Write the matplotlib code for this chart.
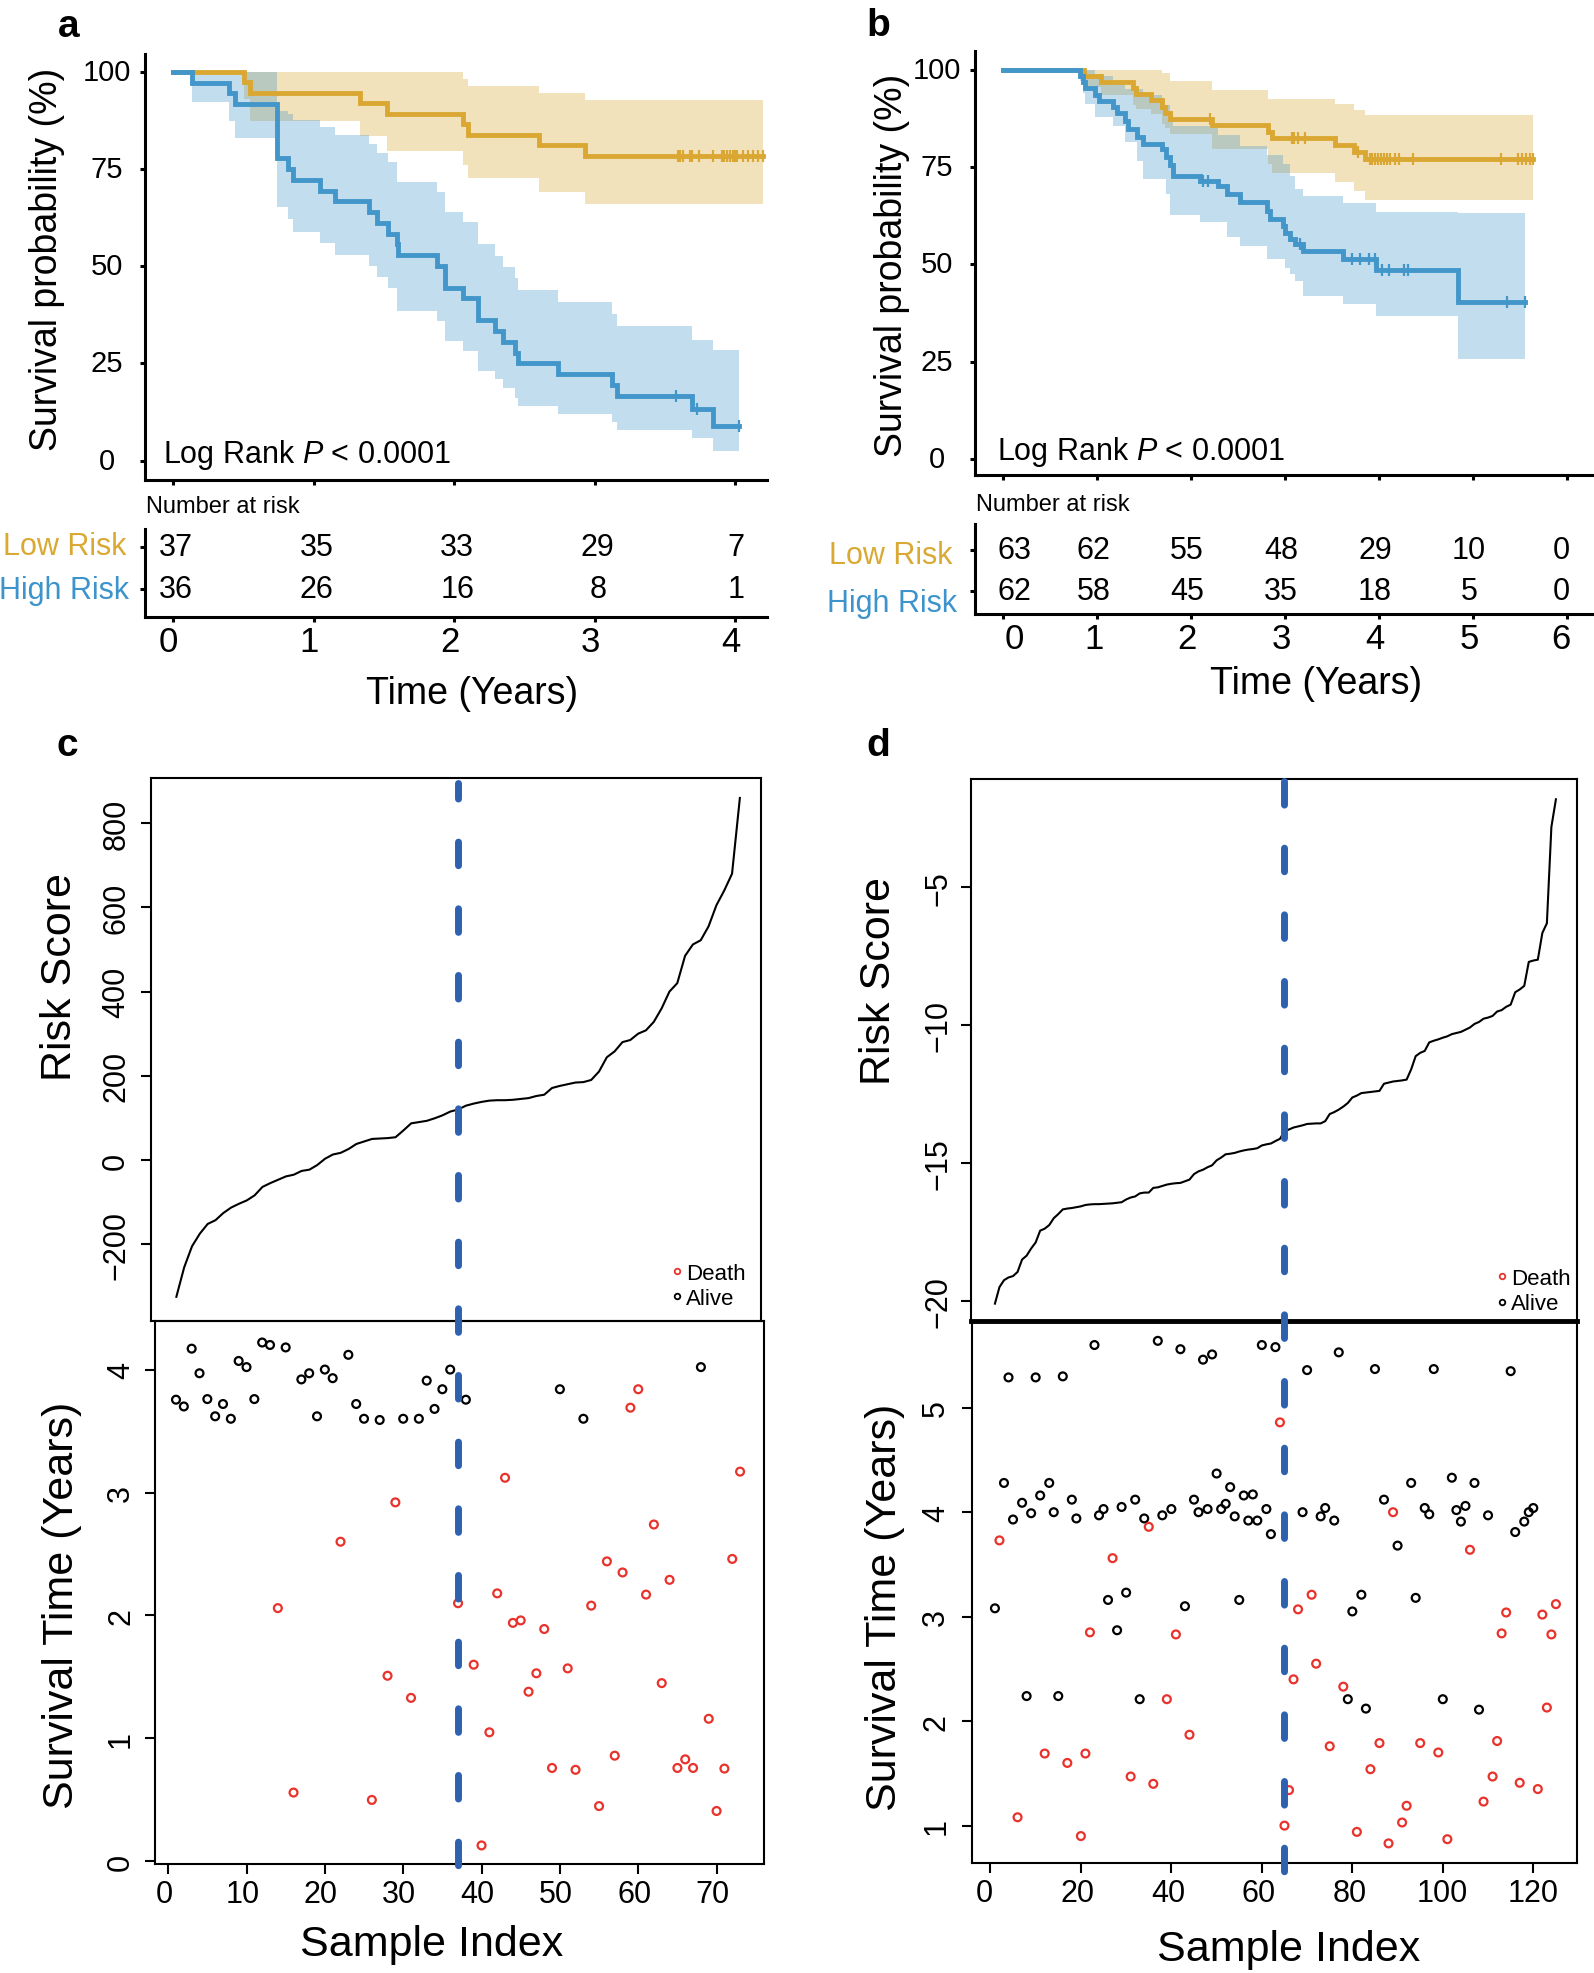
import numpy as np
import matplotlib
matplotlib.use("Agg")
import matplotlib.pyplot as plt
from matplotlib.lines import Line2D
from matplotlib.transforms import blended_transform_factory, ScaledTranslation

plt.rcParams['font.family'] = ['Liberation Sans', 'DejaVu Sans']
plt.rcParams['mathtext.fontset'] = 'custom'
plt.rcParams['mathtext.rm'] = 'Liberation Sans'
plt.rcParams['mathtext.it'] = 'Liberation Sans:italic'
plt.rcParams['lines.scale_dashes'] = False

# ======================= DATA =======================
# ---- panel a : Kaplan-Meier (training set) ----
a_low_t = [0, 0.505, 0.546, 1.33, 1.52, 2.065, 2.10, 2.60, 2.93]
a_low_s = [100, 97.3, 94.6, 91.9, 89.2, 86.5, 83.8, 81.1, 78.4]
a_low_hi = [100, 100, 100, 100, 100, 98.1, 96.2, 94.5, 92.6]
a_low_lo = [100, 93.0, 87.4, 83.4, 79.7, 76.0, 72.6, 69.2, 66.1]
a_low_end = 4.20
a_low_cens = [3.594, 3.61, 3.63, 3.678, 3.69, 3.744, 3.843, 3.903, 3.92, 3.943,
              3.96, 3.981, 4.00, 4.014, 4.057, 4.093, 4.128, 4.164, 4.199]

a_high_t = [0, 0.13, 0.40, 0.44, 0.735, 0.82, 0.855, 1.045, 1.15, 1.39, 1.45, 1.53, 1.59,
            1.60, 1.875, 1.935, 2.065, 2.17, 2.29, 2.35, 2.43, 2.456, 2.74, 3.12, 3.16, 3.69, 3.84]
a_high_s = [100, 97.2, 94.4, 91.7, 77.8, 75.0, 72.2, 69.4, 66.7, 63.9, 61.1, 58.3, 55.6,
            52.8, 50.0, 44.4, 41.7, 36.1, 33.3, 30.6, 27.8, 25.0, 22.2, 19.4, 16.7, 13.3, 8.9]
a_high_hi = [100, 100, 100, 100, 90.0, 89.0, 87.5, 85.9, 83.7, 81.4, 79.0, 76.7, 71.6,
             71.6, 69.0, 63.9, 61.3, 55.7, 52.7, 49.7, 47.0, 44.0, 40.7, 37.7, 34.5, 31.1, 28.5]
a_high_lo = [100, 92.1, 87.2, 82.9, 65.1, 62.1, 58.9, 55.9, 52.9, 50.0, 47.1, 44.3, 38.6,
             38.6, 36.0, 30.8, 28.3, 23.1, 21.0, 18.6, 16.0, 14.1, 12.0, 10.0, 8.0, 5.8, 2.6]
a_high_end = 4.03
a_high_cens = [3.58, 3.73, 4.03]

a_years = [0, 1, 2, 3, 4]
a_risk_low = [37, 35, 33, 29, 7]
a_risk_high = [36, 26, 16, 8, 1]

# ---- panel b : Kaplan-Meier (validation set) ----
b_low_t = [0, 0.86, 1.05, 1.39, 1.42, 1.58, 1.69, 1.72, 1.78, 2.22, 2.82, 2.86, 3.53, 3.73, 3.85]
b_low_s = [100, 98.4, 96.8, 95.2, 93.7, 92.1, 90.5, 88.9, 87.3, 85.7, 84.1, 82.5, 80.7, 78.8, 77.1]
b_low_hi = [100, 100, 100, 100, 100, 100, 99.1, 99.1, 97.0, 94.9, 92.5, 92.5, 91.2, 89.7, 88.4]
b_low_lo = [100, 95.5, 93.5, 91.0, 90.0, 88.6, 86.0, 85.0, 83.5, 79.6, 75.8, 73.5, 71.2, 68.9, 66.6]
b_low_end = 5.64
b_low_cens = [2.20, 3.07, 3.10, 3.14, 3.21, 3.78, 3.90, 3.93, 3.96, 3.99, 4.02, 4.05,
              4.08, 4.12, 4.17, 4.21, 4.36, 5.30, 5.48, 5.52, 5.56, 5.60, 5.64]

b_high_t = [0, 0.822, 0.85, 0.875, 0.98, 1.02, 1.176, 1.21, 1.30, 1.335, 1.424, 1.49, 1.69,
            1.74, 1.78, 1.813, 2.10, 2.29, 2.38, 2.52, 2.81, 2.84, 2.98, 3.00, 3.05, 3.11,
            3.19, 3.62, 3.97, 4.84]
b_high_s = [100, 98.4, 96.8, 95.2, 93.5, 92.0, 90.4, 89.0, 86.9, 84.8, 82.6, 80.9, 79.6,
            77.5, 75.4, 72.8, 71.5, 70.2, 68.1, 65.9, 63.8, 61.6, 59.9, 58.0, 56.5, 55.2,
            53.3, 51.4, 48.6, 40.2]
b_high_hi = [100, 100, 100, 100, 98.5, 98.5, 97.0, 97.0, 95.0, 95.0, 95.0, 93.4, 91.0,
             91.0, 89.0, 85.6, 85.6, 83.2, 83.2, 80.5, 78.0, 78.0, 75.8, 75.8, 72.8, 69.4,
             67.6, 65.8, 63.5, 63.2]
b_high_lo = [100, 97.0, 94.0, 91.3, 87.8, 87.8, 85.6, 85.6, 81.3, 81.3, 76.6, 71.9, 71.9,
             68.0, 62.8, 62.8, 60.8, 60.8, 56.9, 54.8, 51.4, 51.4, 51.4, 49.0, 47.5, 45.8,
             41.8, 39.8, 36.8, 25.7]
b_high_end = 5.55
b_high_cens = [2.13, 2.18, 3.16, 3.71, 3.80, 3.89, 3.96, 4.03, 4.11, 4.27, 4.31, 5.36, 5.55]

b_years = [0, 1, 2, 3, 4, 5, 6]
b_risk_low = [63, 62, 55, 48, 29, 10, 0]
b_risk_high = [62, 58, 45, 35, 18, 5, 0]

# ---- panel c : risk score / survival (n = 73) ----
c_score = [-325, -255, -205, -175, -152, -143, -126, -113, -104, -96,
           -84, -64, -55, -47, -39, -35, -26, -23, -12, 3,
           13, 17, 26, 38, 44, 50, 51, 52, 54, 70,
           87, 90, 93, 99, 106, 115, 120, 129, 134, 138,
           141, 142, 142, 143, 145, 147, 152, 155, 171, 176,
           180, 184, 185, 190, 210, 244, 258, 280, 285, 300,
           308, 328, 360, 400, 420, 485, 512, 522, 555, 605,
           640, 680, 860]
c_time = [3.755, 3.70, 4.17, 3.97, 3.76, 3.62, 3.72, 3.60, 4.07, 4.02,
          3.76, 4.22, 4.20, 2.06, 4.18, 0.56, 3.92, 3.97, 3.62, 4.00,
          3.93, 2.60, 4.12, 3.72, 3.60, 0.50, 3.59, 1.51, 2.92, 3.60,
          1.33, 3.60, 3.91, 3.68, 3.84, 4.00, 2.10, 3.755, 1.60, 0.13,
          1.05, 2.18, 3.12, 1.94, 1.96, 1.38, 1.53, 1.89, 0.76, 3.84,
          1.57, 0.745, 3.60, 2.08, 0.45, 2.44, 0.86, 2.35, 3.69, 3.84,
          2.17, 2.74, 1.45, 2.29, 0.76, 0.83, 0.76, 4.02, 1.16, 0.41,
          0.755, 2.46, 3.17]
c_status = [0, 0, 0, 0, 0, 0, 0, 0, 0, 0,
            0, 0, 0, 1, 0, 1, 0, 0, 0, 0,
            0, 1, 0, 0, 0, 1, 0, 1, 1, 0,
            1, 0, 0, 0, 0, 0, 1, 0, 1, 1,
            1, 1, 1, 1, 1, 1, 1, 1, 1, 0,
            1, 1, 0, 1, 1, 1, 1, 1, 1, 1,
            1, 1, 1, 1, 1, 1, 1, 0, 1, 1,
            1, 1, 1]
c_cut = 37

# ---- panel d : risk score / survival (n = 125) ----
d_score = [-20.1, -19.5, -19.25, -19.15, -19.1, -18.95, -18.5, -18.36, -18.1, -17.88,
           -17.45, -17.38, -17.25, -17.0, -16.85, -16.68, -16.65, -16.63, -16.60, -16.57,
           -16.52, -16.50, -16.49, -16.49, -16.48, -16.47, -16.46, -16.44, -16.42, -16.32,
           -16.25, -16.21, -16.1, -16.07, -16.07, -15.9, -15.88, -15.83, -15.78, -15.75,
           -15.73, -15.72, -15.66, -15.6, -15.4, -15.3, -15.24, -15.15, -15.08, -14.9,
           -14.8, -14.68, -14.66, -14.63, -14.58, -14.54, -14.51, -14.49, -14.46, -14.36,
           -14.32, -14.29, -14.2, -14.12, -13.85, -13.78, -13.71, -13.67, -13.63, -13.58,
           -13.57, -13.56, -13.56, -13.48, -13.22, -13.15, -13.06, -12.95, -12.82, -12.62,
           -12.55, -12.46, -12.44, -12.42, -12.40, -12.38, -12.12, -12.08, -12.04, -12.02,
           -12.0, -11.97, -11.6, -11.12, -11.0, -10.93, -10.62, -10.56, -10.51, -10.45,
           -10.40, -10.32, -10.28, -10.24, -10.16, -10.08, -9.95, -9.88, -9.76, -9.72,
           -9.66, -9.5, -9.45, -9.33, -9.25, -8.8, -8.7, -8.57, -7.7, -7.65,
           -7.62, -6.65, -6.3, -2.8, -1.8]
d_time = [3.08, 3.73, 4.28, 5.29, 3.93, 1.08, 4.09, 2.24, 3.99, 5.29,
          4.16, 1.69, 4.28, 4.00, 2.24, 5.30, 1.60, 4.12, 3.94, 0.90,
          1.69, 2.85, 5.60, 3.97, 4.03, 3.16, 3.56, 2.87, 4.05, 3.23,
          1.47, 4.12, 2.21, 3.94, 3.86, 1.40, 5.64, 3.97, 2.21, 4.03,
          2.83, 5.56, 3.10, 1.87, 4.12, 4.00, 5.46, 4.03, 5.51, 4.37,
          4.03, 4.08, 4.24, 3.96, 3.16, 4.16, 3.92, 4.17, 3.92, 5.60,
          4.03, 3.79, 5.58, 4.86, 1.00, 1.34, 2.40, 3.07, 4.00, 5.36,
          3.21, 2.55, 3.96, 4.04, 1.76, 3.92, 5.53, 2.33, 2.21, 3.05,
          0.94, 3.21, 2.12, 1.54, 5.37, 1.79, 4.12, 0.83, 4.00, 3.68,
          1.03, 1.19, 4.28, 3.18, 1.79, 4.04, 3.98, 5.37, 1.70, 2.21,
          0.87, 4.33, 4.02, 3.91, 4.06, 3.64, 4.28, 2.11, 1.23, 3.97,
          1.47, 1.81, 2.84, 3.04, 5.35, 3.81, 1.41, 3.91, 4.00, 4.04,
          1.35, 3.02, 2.13, 2.83, 3.12]
d_status = [0, 1, 0, 0, 0, 1, 0, 0, 0, 0,
            0, 1, 0, 0, 0, 0, 1, 0, 0, 1,
            1, 1, 0, 0, 0, 0, 1, 0, 0, 0,
            1, 0, 0, 0, 1, 1, 0, 0, 1, 0,
            1, 0, 0, 1, 0, 0, 0, 0, 0, 0,
            0, 0, 0, 0, 0, 0, 0, 0, 0, 0,
            0, 0, 0, 1, 1, 1, 1, 1, 0, 0,
            1, 1, 0, 0, 1, 0, 0, 1, 0, 0,
            1, 0, 0, 1, 0, 1, 0, 1, 1, 0,
            1, 1, 0, 0, 1, 0, 0, 0, 1, 0,
            1, 0, 0, 0, 0, 1, 0, 0, 1, 0,
            1, 1, 1, 1, 0, 0, 1, 0, 0, 0,
            1, 1, 1, 1, 1]
d_cut = 65

# ======================= STYLE =======================
GOLD = '#DAA832'
BLUE = '#4296CA'
LOWTXT = '#D9A933'
HIGHTXT = '#3D93CB'
RED = '#E8322B'
DASH = '#2F62AE'

W, H = 1594, 1974
DPI = 100
fig = plt.figure(figsize=(W / DPI, H / DPI), dpi=DPI)


def rect(l, t, r, b):
    return [l / W, 1 - b / H, (r - l) / W, (b - t) / H]


def ftext(x, y, s, **kw):
    return fig.text(x / W, 1 - y / H, s, **kw)


def px_shift(dx):
    return ScaledTranslation(dx / DPI, 0, fig.dpi_scale_trans)


def shift_xlabels(ax, offsets):
    for tk, dx in zip(ax.xaxis.get_major_ticks(), offsets):
        tk.label1.set_transform(tk.label1.get_transform() + px_shift(dx))


def band(ax, t, lo, hi, end, color, alpha):
    te = np.r_[t, end]
    lo_e = np.r_[lo, lo[-1]]
    hi_e = np.r_[hi, hi[-1]]
    ax.fill_between(te, lo_e, hi_e, step='post', color=color, alpha=alpha, lw=0)


def curve(ax, t, s, end, cens, color):
    te = np.r_[t, end]
    se = np.r_[s, s[-1]]
    ax.step(te, se, where='post', color=color, lw=3.5, solid_joinstyle='miter')
    cs = np.asarray(s)[np.searchsorted(t, cens, side='right') - 1]
    ax.plot(cens, cs, ls='none', marker='|', ms=8, mew=1.6, color=color)


def km_axes(l, t, r, b, xlim, ylim, xticks):
    ax = fig.add_axes(rect(l, t, r, b))
    ax.set_xlim(xlim)
    ax.set_ylim(ylim)
    for sp in ['top', 'right']:
        ax.spines[sp].set_visible(False)
    for sp in ['left', 'bottom']:
        ax.spines[sp].set_linewidth(2.2)
    ax.set_xticks(xticks)
    ax.set_xticklabels([])
    ax.set_yticks([0, 25, 50, 75, 100])
    ax.tick_params(axis='both', direction='out', length=3.5, width=2.2, labelsize=21)
    ax.tick_params(axis='y', pad=23.8)
    for lbl in ax.get_yticklabels():
        lbl.set_ha('center')
        lbl.set_va('center')
    return ax


def table_axes(l, t, r, b, xlim, ylim, xticks, offsets):
    ax = fig.add_axes(rect(l, t, r, b))
    ax.set_xlim(xlim)
    ax.set_ylim(ylim)
    for sp in ['top', 'right']:
        ax.spines[sp].set_visible(False)
    for sp in ['left', 'bottom']:
        ax.spines[sp].set_linewidth(2.2)
    ax.set_yticks([0, 1])
    ax.set_yticklabels([])
    ax.set_xticks(xticks)
    ax.set_xticklabels([str(v) for v in xticks])
    ax.tick_params(axis='both', direction='out', length=3.5, width=2.2)
    ax.tick_params(axis='x', labelsize=25, pad=2.5)
    shift_xlabels(ax, offsets)
    ax.patch.set_alpha(0)
    return ax


# ======================= PANEL a =======================
ax_a = km_axes(145, 55, 767, 481, (-0.201, 4.226), (-4.96, 104.55), a_years)
band(ax_a, a_low_t, a_low_lo, a_low_hi, a_low_end, GOLD, 0.33)
band(ax_a, a_high_t, a_high_lo, a_high_hi, a_high_end, BLUE, 0.32)
curve(ax_a, a_low_t, a_low_s, a_low_end, a_low_cens, GOLD)
curve(ax_a, a_high_t, a_high_s, a_high_end, a_high_cens, BLUE)
ftext(162.7, 463, r'Log Rank $\it{P}$ < 0.0001', fontsize=22, ha='left', va='baseline')
ftext(47.5, 259, 'Survival probability (%)', fontsize=27, rotation=90, ha='center', va='center')

tab_a = table_axes(145, 530, 767, 617.5, (-0.201, 4.226), (-0.655, 1.429), a_years,
                   [-4.5, -4.5, -4.5, -4.5, -4.5])
a_num_dx = [3, 3, 3, 3, 1]
for yr, nl, nh, dx in zip(a_years, a_risk_low, a_risk_high, a_num_dx):
    tr = tab_a.transData + px_shift(dx)
    tab_a.text(yr, 1, str(nl), ha='center', va='center', fontsize=22, transform=tr)
    tab_a.text(yr, 0, str(nh), ha='center', va='center', fontsize=22, transform=tr)
ftext(146, 507, 'Number at risk', fontsize=17, ha='left', va='center')
ftext(126, 547, 'Low Risk', fontsize=22, color=LOWTXT, ha='right', va='center')
ftext(129, 591, 'High Risk', fontsize=22, color=HIGHTXT, ha='right', va='center')
ftext(472.5, 693.5, 'Time (Years)', fontsize=27, ha='center', va='center')
ftext(69, 27, 'a', fontsize=28, fontweight='bold', ha='center', va='center')

# ======================= PANEL b =======================
ax_b = km_axes(975, 51.6, 1594, 476, (-0.294, 6.284), (-4.11, 104.9), b_years)
band(ax_b, b_low_t, b_low_lo, b_low_hi, b_low_end, GOLD, 0.33)
band(ax_b, b_high_t, b_high_lo, b_high_hi, b_high_end, BLUE, 0.32)
curve(ax_b, b_low_t, b_low_s, b_low_end, b_low_cens, GOLD)
curve(ax_b, b_high_t, b_high_s, b_high_end, b_high_cens, BLUE)
ftext(996.7, 460, r'Log Rank $\it{P}$ < 0.0001', fontsize=22, ha='left', va='baseline')
ftext(892, 265, 'Survival probability (%)', fontsize=27, rotation=90, ha='center', va='center')

b_col_dx = [12, -3, -4, -4, -4, -4, -6]
tab_b = table_axes(975, 525, 1594, 615, (-0.294, 6.284), (-0.557, 1.622), b_years, b_col_dx)
for yr, nl, nh, dx in zip(b_years, b_risk_low, b_risk_high, b_col_dx):
    tr = tab_b.transData + px_shift(dx)
    tab_b.text(yr, 1, str(nl), ha='center', va='center', fontsize=22, transform=tr)
    tab_b.text(yr, 0, str(nh), ha='center', va='center', fontsize=22, transform=tr)
ftext(975.7, 505.5, 'Number at risk', fontsize=17, ha='left', va='center')
ftext(952, 556, 'Low Risk', fontsize=22, color=LOWTXT, ha='right', va='center')
ftext(957, 604, 'High Risk', fontsize=22, color=HIGHTXT, ha='right', va='center')
ftext(1316, 684, 'Time (Years)', fontsize=27, ha='center', va='center')
ftext(878, 26, 'b', fontsize=28, fontweight='bold', ha='center', va='center')


# ======================= PANELS c / d =======================
def box_axes(l, t, r, b, xlim, ylim, yticks, ypad, xticks=None, xoffsets=None,
             top_lw=1.5, bot_lw=1.5):
    ax = fig.add_axes(rect(l, t, r, b))
    ax.set_xlim(xlim)
    ax.set_ylim(ylim)
    for sp in ax.spines.values():
        sp.set_linewidth(1.5)
    ax.spines['top'].set_linewidth(top_lw)
    ax.spines['bottom'].set_linewidth(bot_lw)
    ax.set_yticks(yticks)
    ax.tick_params(axis='y', direction='out', length=7.5, width=1.5, labelsize=22,
                   pad=ypad, labelrotation=90)
    for lbl in ax.get_yticklabels():
        lbl.set_va('center')
    if xticks is None:
        ax.set_xticks([])
    else:
        ax.set_xticks(xticks)
        ax.tick_params(axis='x', direction='out', length=7.5, width=1.5, labelsize=22, pad=3.5)
        shift_xlabels(ax, xoffsets)
    ax.patch.set_alpha(0)
    return ax


def legend(ax, bx, by):
    handles = [Line2D([], [], ls='none', marker='o', ms=4, mfc='none', mec=RED, mew=1.3, label='Death'),
               Line2D([], [], ls='none', marker='o', ms=4, mfc='none', mec='black', mew=1.3, label='Alive')]
    ax.legend(handles=handles, loc='lower right', bbox_to_anchor=(bx, by), frameon=False,
              fontsize=16, handlelength=0.5, handletextpad=0.15, labelspacing=0.2,
              borderpad=0, borderaxespad=0)


# ---- c ----
c_idx = np.arange(1, len(c_score) + 1)
ax_ct = box_axes(151, 779, 761, 1322, (-2.24, 75.7), (-382.5, 907.4),
                 [-200, 0, 200, 400, 600, 800], 6.8)
ax_ct.plot(c_idx, c_score, color='black', lw=1.5)
legend(ax_ct, 0.975, 0.022)

ax_cb = box_axes(155, 1322, 763.5, 1865, (-1.68, 75.99), (-0.021, 4.395),
                 [0, 1, 2, 3, 4], 6.1, xticks=[0, 10, 20, 30, 40, 50, 60, 70],
                 xoffsets=[-4] * 8)
c_cols = [RED if s == 1 else 'black' for s in c_status]
ax_cb.scatter(c_idx, c_time, s=32, facecolors='none', edgecolors=c_cols, linewidths=1.6, zorder=3)
tr_c = blended_transform_factory(ax_cb.transData, fig.transFigure)
ax_cb.plot([c_cut, c_cut], [1 - 784 / H, 1 - 1870 / H], transform=tr_c, clip_on=False,
           color=DASH, lw=5, linestyle=(5.8, (17, 31)), dash_capstyle='round', zorder=10)

ftext(60, 977, 'Risk Score', fontsize=31, rotation=90, ha='center', va='center')
ftext(62.5, 1605, 'Survival Time (Years)', fontsize=31, rotation=90, ha='center', va='center')
ftext(431.5, 1945, 'Sample Index', fontsize=31, ha='center', va='center')
ftext(67, 746, 'c', fontsize=28, fontweight='bold', ha='center', va='center')

# ---- d ----
d_idx = np.arange(1, len(d_score) + 1)
ax_dt = box_axes(971, 779.5, 1577, 1322, (-4.29, 129.66), (-20.73, -1.045),
                 [-20, -15, -10, -5], 5.0, bot_lw=3.5)
ax_dt.plot(d_idx, d_score, color='black', lw=1.5)
legend(ax_dt, 0.99, 0.012)

ax_db = box_axes(972, 1322, 1577, 1863.5, (-4.07, 129.66), (0.647, 5.83),
                 [1, 2, 3, 4, 5], 7.5, xticks=[0, 20, 40, 60, 80, 100, 120],
                 xoffsets=[-6, -3, -3, -3, -3, -1, 0])
d_cols = [RED if s == 1 else 'black' for s in d_status]
ax_db.scatter(d_idx, d_time, s=32, facecolors='none', edgecolors=d_cols, linewidths=1.6, zorder=3)
tr_d = blended_transform_factory(ax_db.transData, fig.transFigure)
ax_db.plot([d_cut, d_cut], [1 - 781.5 / H, 1 - 1874 / H], transform=tr_d, clip_on=False,
           color=DASH, lw=5, linestyle=(0, (17, 31)), dash_capstyle='round', zorder=10)

ftext(878.5, 981, 'Risk Score', fontsize=31, rotation=90, ha='center', va='center')
ftext(884.6, 1607, 'Survival Time (Years)', fontsize=31, rotation=90, ha='center', va='center')
ftext(1289, 1950, 'Sample Index', fontsize=31, ha='center', va='center')
ftext(878, 746, 'd', fontsize=28, fontweight='bold', ha='center', va='center')

fig.savefig('out.png', dpi=DPI)
